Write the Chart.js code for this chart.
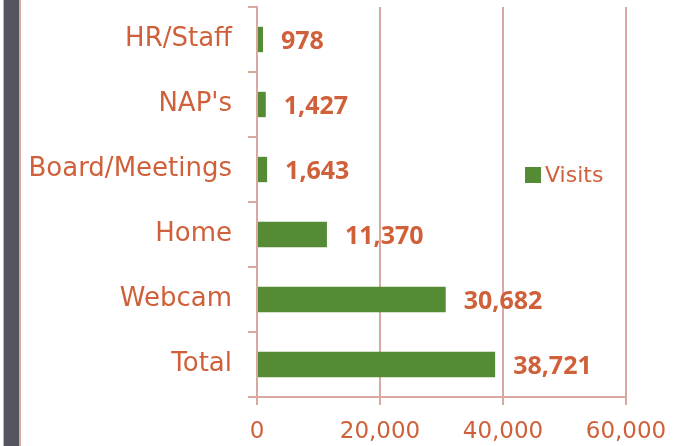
<!DOCTYPE html>
<html>
<head>
<meta charset="utf-8">
<script src="https://cdn.jsdelivr.net/npm/chart.js@4.4.0/dist/chart.umd.min.js"></script>
<style>
  html, body { margin: 0; padding: 0; background: #fff; }
  #wrap { position: relative; width: 686px; height: 446px; }
  #side { position: absolute; left: 3px; top: 0; width: 15px; height: 446px; background: #53565e;
          border-left: 1px solid #d9a8a0; border-right: 2px solid #d9a8a0; }
  canvas { position: absolute; left: 0; top: 0; }
</style>
</head>
<body>
<div id="wrap">
  <div id="side"></div>
  <canvas id="grafico" width="686" height="446"></canvas>
</div>
<script>
// dados do grafico
const categorias = ['HR/Staff', "NAP's", 'Board/Meetings', 'Home', 'Webcam', 'Total'];
const visitas = [978, 1427, 1643, 11370, 30682, 38721];
const nomeSerie = 'Visits';

const corTexto = '#d0603a';
const corBarra = '#548b34';
const corGrade = '#d9a8a0';
const fonte = "'DejaVu Sans', sans-serif";

const formatar = v => v.toLocaleString('en-US');

// rotulos de valor ao lado das barras
const rotulosPlugin = {
    id: 'rotulosValor',
    afterDatasetsDraw(chart) {
        const ctx = chart.ctx;
        const meta = chart.getDatasetMeta(0);
        ctx.save();
        ctx.font = "bold 25px 'Open Sans', sans-serif";
        ctx.fillStyle = corTexto;
        ctx.textAlign = 'left';
        ctx.textBaseline = 'middle';
        meta.data.forEach((bar, i) => {
            ctx.fillText(formatar(chart.data.datasets[0].data[i]), bar.x + 18, bar.y + 2);
        });
        ctx.restore();
    }
};

// legenda dentro da area do grafico
const legendaPlugin = {
    id: 'legendaInterna',
    afterDraw(chart) {
        const ctx = chart.ctx;
        const ds = chart.data.datasets[0];
        const x = 525, y = 175;
        ctx.save();
        ctx.fillStyle = ds.backgroundColor;
        ctx.fillRect(x, y - 8, 16, 16);
        ctx.font = '22px ' + fonte;
        ctx.fillStyle = corTexto;
        ctx.textAlign = 'left';
        ctx.textBaseline = 'middle';
        ctx.fillText(ds.label, x + 20, y + 1);
        ctx.restore();
    }
};

new Chart(document.getElementById('grafico'), {
    type: 'bar',
    data: {
        labels: categorias,
        datasets: [{
            label: nomeSerie,
            data: visitas,
            backgroundColor: corBarra,
            borderWidth: 0,
            barPercentage: 0.39,
            categoryPercentage: 1
        }]
    },
    options: {
        indexAxis: 'y',
        responsive: false,
        animation: false,
        layout: { padding: { top: 7, right: 60, bottom: 0, left: 0 } },
        plugins: {
            legend: { display: false },
            tooltip: { enabled: false }
        },
        scales: {
            x: {
                min: 0,
                max: 60000,
                afterFit: s => { s.height = 49; s.paddingLeft = 0; s.paddingRight = 0; },
                ticks: {
                    stepSize: 20000,
                    color: corTexto,
                    font: { family: fonte, size: 23 },
                    padding: 13,
                    callback: v => formatar(v)
                },
                grid: { color: corGrade, lineWidth: 2, tickLength: 8 },
                border: { color: corGrade, width: 2 }
            },
            y: {
                afterFit: s => { s.width = 257; s.paddingTop = 0; s.paddingBottom = 0; },
                ticks: {
                    color: corTexto,
                    font: { family: fonte, size: 26 },
                    padding: 16
                },
                grid: { drawOnChartArea: false, color: corGrade, lineWidth: 2, tickLength: 9, offset: true },
                border: { color: corGrade, width: 2 }
            }
        }
    },
    plugins: [rotulosPlugin, legendaPlugin]
});
</script>
</body>
</html>
